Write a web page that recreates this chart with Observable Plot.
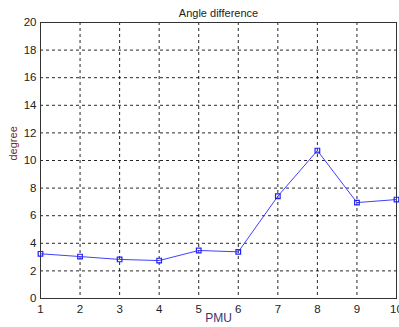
<!DOCTYPE html>
<html><head><meta charset="utf-8">
<script src="https://cdn.jsdelivr.net/npm/d3@7"></script>
<script src="https://cdn.jsdelivr.net/npm/@observablehq/plot@0.6"></script>
<style>body{margin:0;background:#fff;} svg{display:block;}</style>
</head><body>
<div id="chart"></div>
<script>
const pmu = [1,2,3,4,5,6,7,8,9,10];
const angleDiff = [3.24,3.04,2.83,2.75,3.48,3.38,7.41,10.72,6.95,7.17];
const yTicks = [0,2,4,6,8,10,12,14,16,18,20];
const xTicks = [1,2,3,4,5,6,7,8,9,10];
const title = "Angle difference";
const xLabel = "PMU";
const yLabel = "degree";

const data = pmu.map((p,i)=>({pmu:p, v:angleDiff[i]}));

const chart = Plot.plot({
  width: 399, height: 327,
  marginLeft: 40, marginRight: 3, marginTop: 22, marginBottom: 29,
  style: {fontFamily: "Arial, 'Liberation Sans', sans-serif", fontSize: "11px", color: "#222", background: "#fff"},
  x: {domain: [1,10], ticks: xTicks, tickSize: 0, tickPadding: 6, label: null},
  y: {domain: [0,20], ticks: yTicks, tickSize: 0, tickPadding: 4, label: null},
  marks: [
    Plot.gridX(xTicks, {stroke: "#000", strokeOpacity: 0.85, strokeDasharray: "3,3", strokeWidth: 1}),
    Plot.gridY(yTicks, {stroke: "#000", strokeOpacity: 0.85, strokeDasharray: "3,3", strokeWidth: 1}),
    Plot.frame({stroke: "#333", strokeWidth: 1}),
    Plot.axisX({ticks: xTicks, tickSize: 0, tickPadding: 6, label: null, fontSize: 11.5, fill: "#222"}),
    Plot.axisY({ticks: yTicks, tickSize: 0, tickPadding: 4, label: null, fontSize: 11.5, fill: "#222"}),
    Plot.line(data, {x: "pmu", y: "v", stroke: "#4040ff", strokeWidth: 1}),
    Plot.dot(data, {x: "pmu", y: "v", symbol: "square", r: 2.6, stroke: "#2020ff", strokeWidth: 1.2, fill: "none"}),
    Plot.text([title], {frameAnchor: "top", dy: -13, fontSize: 11, fill: "#222"}),
    Plot.text([xLabel], {frameAnchor: "bottom", dy: 23, fontSize: 12, fill: "#3a3370"}),
    Plot.text([yLabel], {frameAnchor: "left", dx: -27, rotate: -90, fontSize: 11, fill: "#7a2a10"})
  ]
});
document.getElementById("chart").append(chart);
</script>
</body></html>
